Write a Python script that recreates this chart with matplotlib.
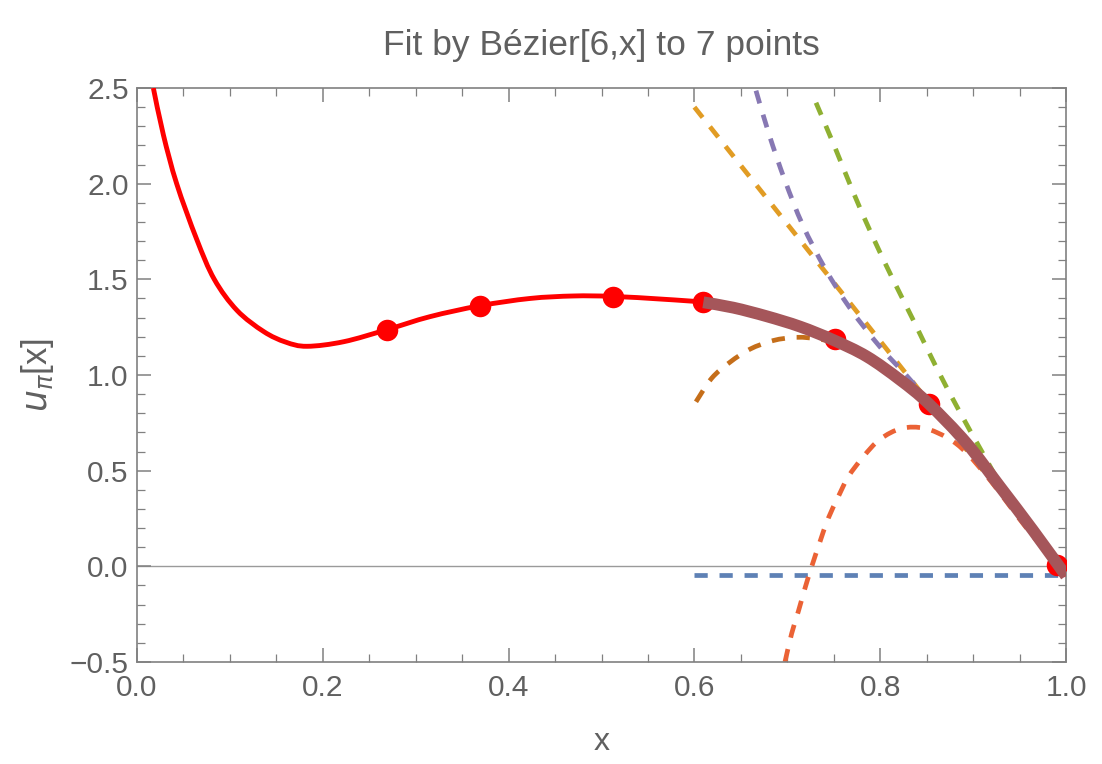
import numpy as np
import matplotlib
matplotlib.use("Agg")
import matplotlib.pyplot as plt
from matplotlib.path import Path
from matplotlib.patches import PathPatch

plt.rcParams['font.family'] = ['Liberation Sans', 'DejaVu Sans']

# ---- data ----
pts_x = [0.269, 0.369, 0.512, 0.609, 0.751, 0.853, 0.990]
pts_y = [1.235, 1.361, 1.408, 1.382, 1.188, 0.849, 0.007]

red_x = [0.0176, 0.0284, 0.0427, 0.0642, 0.0832, 0.1076, 0.1364, 0.1600, 0.1830,
         0.2225, 0.2691, 0.3154, 0.3692, 0.4230, 0.4697, 0.5110, 0.5665, 0.6096,
         0.6419, 0.6778, 0.7137, 0.7495, 0.7855, 0.8213, 0.8518, 0.8931, 0.9290,
         0.9645, 1.0]
red_y = [2.500, 2.255, 2.000, 1.710, 1.500, 1.338, 1.227, 1.172, 1.150,
         1.174, 1.237, 1.305, 1.362, 1.400, 1.413, 1.411, 1.396, 1.380,
         1.352, 1.307, 1.253, 1.183, 1.097, 0.975, 0.852, 0.643, 0.416,
         0.188, -0.050]

fit_x = [0.6096, 0.6419, 0.6778, 0.7137, 0.7495, 0.7855, 0.8213, 0.8518, 0.8931,
         0.9290, 0.9645, 1.0]
fit_y = [1.380, 1.352, 1.307, 1.253, 1.183, 1.097, 0.975, 0.852, 0.643,
         0.416, 0.188, -0.050]

blue_x = [0.6, 1.0]
blue_y = [-0.045, -0.045]

orange_x = [0.6, 1.0]
orange_y = [2.400, -0.045]

purple_x = [0.6663, 0.6806, 0.6975, 0.7166, 0.7406, 0.7675, 0.7998, 0.8356, 0.87,
            0.92, 0.96, 1.0]
purple_y = [2.486, 2.254, 2.016, 1.784, 1.557, 1.349, 1.147, 0.957, 0.745,
            0.47, 0.21, -0.045]

green_x = [0.7309, 0.7514, 0.7710, 0.7919, 0.8141, 0.8364, 0.8601, 0.8841, 0.9093,
           0.9343, 0.97, 1.0]
green_y = [2.423, 2.188, 1.955, 1.723, 1.496, 1.279, 1.043, 0.821, 0.601,
           0.391, 0.15, -0.045]

brorange_x = [0.6017, 0.6186, 0.6383, 0.6598, 0.6848, 0.7100, 0.7352, 0.7567,
              0.7855, 0.8213, 0.8518, 0.8931, 0.9290, 0.9645, 1.0]
brorange_y = [0.860, 0.983, 1.067, 1.135, 1.180, 1.197, 1.187, 1.157,
              1.090, 0.968, 0.848, 0.640, 0.414, 0.186, -0.045]

redor_x = [0.6975, 0.7047, 0.7118, 0.7190, 0.7262, 0.7352, 0.7441, 0.7549, 0.7656,
           0.7818, 0.7998, 0.8231, 0.8482, 0.8732, 0.8931, 0.92, 0.96, 1.0]
redor_y = [-0.500, -0.351, -0.237, -0.115, -0.002, 0.129, 0.251, 0.364, 0.468,
           0.573, 0.664, 0.721, 0.721, 0.669, 0.592, 0.44, 0.185, -0.045]

xticks = [0.0, 0.2, 0.4, 0.6, 0.8, 1.0]
yticks = [-0.5, 0.0, 0.5, 1.0, 1.5, 2.0, 2.5]


def smooth_path(xs, ys):
    """Cubic Bezier path through the read points (Catmull-Rom tangents)."""
    p = np.column_stack([xs, ys]).astype(float)
    n = len(p)
    if n < 3:
        return Path(p)
    verts = [p[0]]
    codes = [Path.MOVETO]
    for i in range(n - 1):
        p0 = p[i - 1] if i > 0 else p[i]
        p1, p2 = p[i], p[i + 1]
        p3 = p[i + 2] if i + 2 < n else p[i + 1]
        c1 = p1 + (p2 - p0) / 6.0
        c2 = p2 - (p3 - p1) / 6.0
        verts += [c1, c2, p2]
        codes += [Path.CURVE4] * 3
    return Path(verts, codes)


def draw(ax, xs, ys, **kw):
    patch = PathPatch(smooth_path(xs, ys), fill=False, **kw)
    ax.add_patch(patch)
    return patch


# ---- figure ----
fig = plt.figure(figsize=(11.02, 7.64), dpi=100)
ax = fig.add_axes([137/1102, 1-662/764, (1066-137)/1102, (662-88)/764])

ax.axhline(0, color='#9a9a9a', lw=1.0, zorder=1)

dkw = dict(lw=3.4, zorder=2, capstyle='butt')
for xs, ys, c in [(blue_x, blue_y, '#5E81B5'),
                  (orange_x, orange_y, '#E19C24'),
                  (green_x, green_y, '#8FB032'),
                  (redor_x, redor_y, '#EB6235'),
                  (purple_x, purple_y, '#8778B3'),
                  (brorange_x, brorange_y, '#C56E1A')]:
    p = draw(ax, xs, ys, edgecolor=c, **dkw)
    p.set_linestyle((0, (2.8, 2.5)))

draw(ax, red_x, red_y, edgecolor='#ff0000', lw=3.5, zorder=3)
ax.plot(pts_x, pts_y, 'o', color='#ff0000', ms=15.5, mew=0, zorder=4)
draw(ax, fit_x, fit_y, edgecolor='#a5565a', lw=8.5, zorder=5, capstyle='butt')

ax.set_xlim(0, 1)
ax.set_ylim(-0.5, 2.5)
ax.set_xticks(xticks)
ax.set_yticks(yticks)
ax.set_xticklabels([f"{v:.1f}" for v in xticks])
ax.set_yticklabels([f"{v:.1f}".replace('-', '\u2212') for v in yticks])
ax.set_xticks(np.arange(0, 1.0001, 0.05), minor=True)
ax.set_yticks(np.arange(-0.5, 2.5001, 0.1), minor=True)

gray = '#808080'
for s in ax.spines.values():
    s.set_color(gray)
    s.set_linewidth(1.2)
ax.tick_params(which='both', direction='in', top=True, right=True, color=gray,
               labelcolor='#606060', labelsize=21.5)
ax.tick_params(which='major', length=10, width=1.1)
ax.tick_params(axis='y', which='major', pad=6)
ax.tick_params(axis='x', which='major', pad=9)
ax.tick_params(which='minor', length=6, width=0.9)

ax.set_title("Fit by Bézier[6,x] to 7 points", fontsize=25.5, color='#606060', pad=24)
ax.set_xlabel("x", fontsize=23, color='#606060', labelpad=18)
ax.set_ylabel(r"$u_{\pi}$[x]", fontsize=25, color='#606060', labelpad=10)

fig.savefig("out.png", dpi=100)
